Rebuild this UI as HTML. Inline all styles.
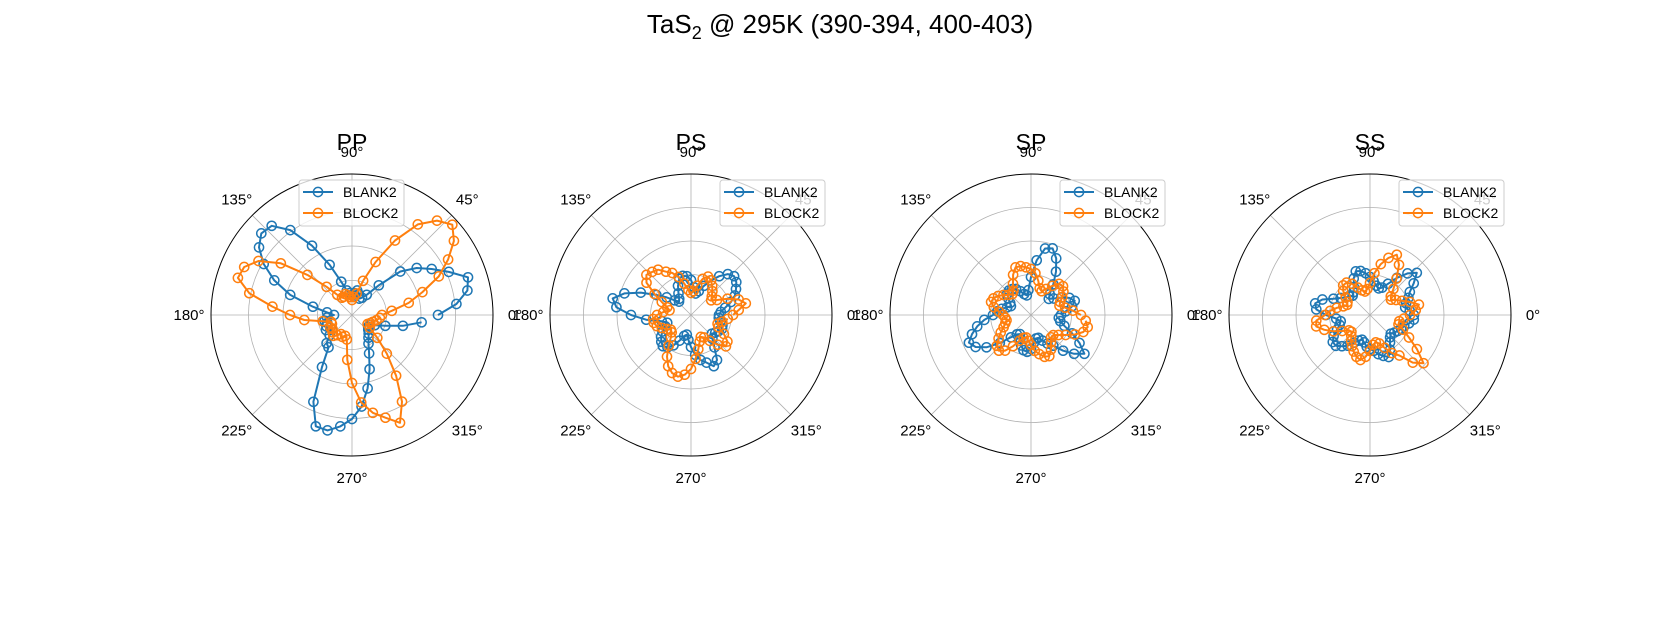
<!DOCTYPE html>
<html><head><meta charset="utf-8"><style>
html,body{margin:0;padding:0;background:#fff;}
svg{display:block;font-family:"Liberation Sans","DejaVu Sans",sans-serif;}
</style></head><body>
<svg id="fig" width="1680" height="623" viewBox="0 0 1680 623" xmlns="http://www.w3.org/2000/svg">
<rect width="1680" height="623" fill="#fff"/>
<text x="840" y="33" text-anchor="middle" font-size="26">TaS<tspan font-size="18" dy="6">2</tspan><tspan dy="-6"> @ 295K (390-394, 400-403)</tspan></text>
</svg>
<script>
const panelNames = ["PP","PS","SP","SS"];
const angles = [0,6,12,18,24,30,36,42,48,54,60,66,72,78,84,90,96,102,108,114,120,126,132,138,144,150,156,162,168,174,180,186,192,198,204,210,216,222,228,234,240,246,252,258,264,270,276,282,288,294,300,306,312,318,324,330,336,342,348,354];
const seriesNames = ["BLANK2","BLOCK2"];
const ppBlank = [0.86,1.05,1.18,1.22,1.06,0.92,0.80,0.65,0.40,0.25,0.20,0.18,0.22,0.25,0.22,0.20,0.22,0.25,0.35,0.55,0.80,1.05,1.20,1.22,1.15,1.02,0.85,0.65,0.40,0.25,0.18,0.25,0.28,0.26,0.28,0.30,0.25,0.30,0.38,0.40,0.60,0.95,1.17,1.18,1.12,1.04,0.92,0.75,0.57,0.42,0.33,0.28,0.25,0.22,0.20,0.20,0.25,0.35,0.52,0.70];
const ppBlock = [0.30,0.40,0.58,0.74,0.95,1.11,1.26,1.35,1.27,1.12,0.86,0.58,0.36,0.22,0.18,0.15,0.18,0.20,0.22,0.20,0.20,0.25,0.38,0.60,0.88,1.08,1.18,1.20,1.05,0.80,0.62,0.48,0.30,0.22,0.22,0.25,0.24,0.26,0.28,0.25,0.22,0.24,0.22,0.25,0.45,0.68,0.88,1.00,1.08,1.18,1.00,0.75,0.52,0.34,0.22,0.18,0.20,0.22,0.25,0.28];
const psBlank = [0.28,0.30,0.35,0.42,0.48,0.52,0.56,0.58,0.55,0.48,0.40,0.32,0.25,0.22,0.28,0.35,0.39,0.40,0.38,0.32,0.25,0.20,0.18,0.22,0.30,0.40,0.55,0.70,0.80,0.75,0.60,0.45,0.30,0.25,0.28,0.33,0.37,0.40,0.42,0.40,0.35,0.28,0.22,0.20,0.25,0.32,0.40,0.46,0.50,0.56,0.52,0.40,0.32,0.28,0.30,0.32,0.34,0.33,0.30,0.28];
const psBlock = [0.42,0.48,0.56,0.50,0.40,0.30,0.25,0.28,0.32,0.36,0.40,0.42,0.38,0.30,0.24,0.22,0.25,0.32,0.40,0.46,0.50,0.56,0.58,0.60,0.55,0.42,0.32,0.25,0.22,0.28,0.34,0.38,0.38,0.36,0.32,0.28,0.25,0.26,0.30,0.38,0.48,0.56,0.61,0.63,0.60,0.54,0.44,0.35,0.28,0.24,0.26,0.32,0.40,0.47,0.45,0.38,0.30,0.28,0.32,0.37];
const spBlank = [0.30,0.35,0.42,0.46,0.42,0.35,0.28,0.24,0.28,0.38,0.50,0.62,0.70,0.68,0.55,0.38,0.25,0.20,0.22,0.26,0.30,0.32,0.33,0.32,0.28,0.24,0.22,0.25,0.30,0.34,0.38,0.47,0.55,0.62,0.68,0.64,0.55,0.42,0.30,0.24,0.22,0.26,0.32,0.36,0.37,0.34,0.28,0.24,0.24,0.28,0.33,0.38,0.48,0.58,0.66,0.56,0.45,0.35,0.30,0.28];
const spBlock = [0.50,0.42,0.35,0.30,0.32,0.36,0.40,0.43,0.42,0.36,0.30,0.26,0.28,0.35,0.42,0.46,0.48,0.50,0.50,0.44,0.36,0.30,0.28,0.30,0.34,0.38,0.41,0.42,0.38,0.32,0.28,0.26,0.25,0.27,0.30,0.35,0.40,0.46,0.48,0.44,0.36,0.28,0.24,0.23,0.26,0.30,0.36,0.40,0.44,0.45,0.40,0.34,0.30,0.30,0.34,0.40,0.48,0.55,0.58,0.55];
const ssBlank = [0.44,0.40,0.36,0.38,0.42,0.46,0.54,0.63,0.56,0.46,0.36,0.30,0.28,0.30,0.34,0.38,0.42,0.45,0.46,0.40,0.32,0.28,0.26,0.28,0.30,0.34,0.40,0.50,0.56,0.54,0.44,0.34,0.30,0.32,0.36,0.42,0.46,0.46,0.42,0.38,0.32,0.28,0.26,0.28,0.32,0.34,0.36,0.40,0.43,0.46,0.40,0.34,0.30,0.28,0.30,0.32,0.34,0.36,0.40,0.44];
const ssBlock = [0.40,0.46,0.50,0.42,0.35,0.30,0.26,0.28,0.35,0.45,0.58,0.66,0.60,0.52,0.42,0.32,0.26,0.24,0.26,0.30,0.36,0.40,0.40,0.36,0.30,0.26,0.25,0.28,0.34,0.40,0.45,0.54,0.55,0.48,0.40,0.32,0.26,0.25,0.28,0.32,0.36,0.40,0.44,0.46,0.42,0.36,0.30,0.28,0.30,0.36,0.44,0.50,0.64,0.72,0.58,0.45,0.36,0.30,0.30,0.34];
const ppRings = [0.345,0.69,1.035];
const otherRings = [0.405,0.74,1.075];
const rMax = 1.41;
const thetaTicks = [0,45,90,135,180,225,270,315];

const NS="http://www.w3.org/2000/svg";
const svg=document.getElementById('fig');
const centersX=[352,691,1031,1370];
const cy=315, R=141;
const colors=["#1f77b4","#ff7f0e"];
const panelData=[[ppBlank,ppBlock],[psBlank,psBlock],[spBlank,spBlock],[ssBlank,ssBlock]];
function mk(tag,attrs,parent){const e=document.createElementNS(NS,tag);for(const k in attrs)e.setAttribute(k,attrs[k]);(parent||svg).appendChild(e);return e;}
function rScale(v){return v/rMax*R;}
function px(cx,deg,v){const a=deg*Math.PI/180;const r=rScale(v);return [cx+r*Math.cos(a),cy-r*Math.sin(a)];}

panelNames.forEach((name,pi)=>{
  const cx=centersX[pi];
  const g=mk('g',{});
  
  
  const rings=pi===0?ppRings:otherRings;
  rings.forEach(rv=>{
    const c=mk('circle',{cx:cx,cy:cy,r:rScale(rv),fill:'none',stroke:'#b0b0b0','stroke-width':0.8},g);
    
    
  });
  thetaTicks.forEach(t=>{
    const p=px(cx,t,rMax);
    const l=mk('line',{x1:cx,y1:cy,x2:p[0],y2:p[1],stroke:'#b0b0b0','stroke-width':0.8},g);
    
    
  });
  const sp=mk('circle',{cx:cx,cy:cy,r:R,fill:'none',stroke:'#000','stroke-width':1},g);
  
  
  thetaTicks.forEach(t=>{
    const a=t*Math.PI/180;
    const x=cx+163*Math.cos(a), y=cy-163*Math.sin(a);
    const tx=mk('text',{x:x,y:y+5,'text-anchor':'middle','font-size':15,fill:'#000'},g);
    tx.textContent=t+'°';
    
    
  });
  panelData[pi].forEach((vals,si)=>{
    const pts=angles.map((a,i)=>px(cx,a,vals[i]));
    const pl=mk('polyline',{points:pts.map(p=>p[0].toFixed(1)+','+p[1].toFixed(1)).join(' '),fill:'none',stroke:colors[si],'stroke-width':2,'stroke-linejoin':'round'},g);
    
    
    pts.forEach(p=>{
      const m=mk('circle',{cx:p[0].toFixed(1),cy:p[1].toFixed(1),r:4.6,fill:'none',stroke:colors[si],'stroke-width':1.5},g);
      
      
    });
  });
  const tt=mk('text',{x:cx,y:150,'text-anchor':'middle','font-size':23,fill:'#000'},g);
  tt.textContent=name;
  
  
  const lx=pi===0?cx-53:cx+29, ly=180;
  const lg=mk('g',{},g);
  
  
  mk('rect',{x:lx,y:ly,width:105,height:46,rx:3,fill:'#fff','fill-opacity':0.8,stroke:'#cccccc','stroke-width':1},lg);
  seriesNames.forEach((sn,si)=>{
    const y=ly+12+si*21;
    mk('line',{x1:lx+4,y1:y,x2:lx+34,y2:y,stroke:colors[si],'stroke-width':2},lg);
    mk('circle',{cx:lx+19,cy:y,r:4.6,fill:'none',stroke:colors[si],'stroke-width':1.5},lg);
    const t=mk('text',{x:lx+44,y:y+5,'font-size':14,fill:'#000'},lg);
    t.textContent=sn;
    
    
  });
});
</script>
</body></html>
